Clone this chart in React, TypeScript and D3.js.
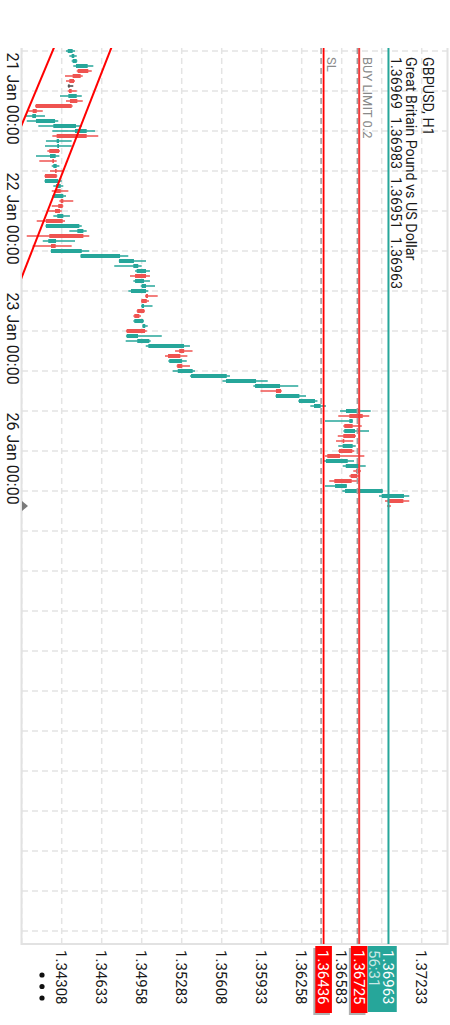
import React from 'react';
import * as d3 from 'd3';

const symbolTitle = 'GBPUSD, H1';
const symbolDesc = 'Great Britain Pound vs US Dollar';
const ohlcText = '1.36969 1.36983 1.36951 1.36963';

const opens = [
  1.34357, 1.34389, 1.34397, 1.34424, 1.34524, 1.34462, 1.34408, 1.34371, 1.34389, 1.34362,
  1.34435, 1.34389, 1.34105, 1.34069, 1.34099, 1.3424, 1.34416, 1.34511, 1.34267, 1.34272,
  1.34286, 1.34213, 1.34245, 1.3424, 1.34267, 1.34267, 1.34172, 1.34262, 1.343, 1.34245,
  1.34321, 1.34316, 1.34294, 1.34272, 1.34316, 1.3418, 1.34435, 1.34484, 1.34199, 1.34259,
  1.34221, 1.34462, 1.34774, 1.3489, 1.34917, 1.34993, 1.34904, 1.34958, 1.34871, 1.35009,
  1.34999, 1.34958, 1.34979, 1.34939, 1.34898, 1.34965, 1.34985, 1.34836, 1.34922, 1.35012,
  1.35303, 1.35272, 1.35182, 1.35288, 1.35251, 1.35359, 1.35643, 1.35879, 1.3609, 1.36049,
  1.36236, 1.36358, 1.36618, 1.36754, 1.36645, 1.36672, 1.36604, 1.36691, 1.36604, 1.36591,
  1.36669, 1.36569, 1.36455, 1.36616, 1.36732, 1.3671, 1.36664, 1.36529, 1.3661, 1.36908,
  1.37084, 1.36969,
];
const highs = [
  1.34416, 1.3443, 1.34435, 1.34565, 1.34552, 1.34479, 1.34416, 1.34402, 1.3443, 1.34471,
  1.34479, 1.34397, 1.34154, 1.34172, 1.3428, 1.34471, 1.34579, 1.34605, 1.34389, 1.34389,
  1.34294, 1.34289, 1.34267, 1.34289, 1.34321, 1.34272, 1.34308, 1.34321, 1.34362, 1.34343,
  1.34402, 1.34321, 1.34308, 1.34375, 1.34335, 1.34471, 1.34511, 1.34532, 1.34416, 1.34389,
  1.34532, 1.34849, 1.34993, 1.34958, 1.35025, 1.35025, 1.35025, 1.35066, 1.35012, 1.35088,
  1.35017, 1.35046, 1.34985, 1.34952, 1.34977, 1.35007, 1.34999, 1.35121, 1.35031, 1.3535,
  1.35371, 1.35329, 1.35324, 1.3535, 1.35391, 1.35675, 1.35982, 1.3623, 1.36096, 1.36293,
  1.36386, 1.36455, 1.36819, 1.36807, 1.36674, 1.36746, 1.36805, 1.36699, 1.36677, 1.36697,
  1.36685, 1.36767, 1.36683, 1.36778, 1.3674, 1.36732, 1.36726, 1.36626, 1.36918, 1.37132,
  1.37132, 1.36983,
];
const lows = [
  1.34343, 1.3437, 1.34389, 1.34402, 1.3443, 1.34335, 1.34343, 1.34357, 1.34357, 1.34294,
  1.34343, 1.34091, 1.34037, 1.34018, 1.34024, 1.34118, 1.34232, 1.34232, 1.3418, 1.34172,
  1.34191, 1.34099, 1.34126, 1.34227, 1.34213, 1.34168, 1.34168, 1.3424, 1.34227, 1.34232,
  1.34289, 1.34227, 1.34199, 1.3424, 1.34105, 1.34176, 1.3437, 1.34024, 1.34154, 1.34072,
  1.34218, 1.3446, 1.34772, 1.34735, 1.34904, 1.34863, 1.3489, 1.3495, 1.34849, 1.34985,
  1.34952, 1.34952, 1.34917, 1.3489, 1.3489, 1.34963, 1.3483, 1.3483, 1.34828, 1.34991,
  1.35229, 1.35147, 1.35174, 1.35242, 1.3521, 1.3535, 1.35614, 1.35865, 1.35923, 1.36045,
  1.3623, 1.36328, 1.36569, 1.36555, 1.36447, 1.36596, 1.36596, 1.36551, 1.36537, 1.36555,
  1.36555, 1.36447, 1.36439, 1.36591, 1.36677, 1.36645, 1.36482, 1.36447, 1.36588, 1.36886,
  1.36935, 1.36951,
];
const closes = [
  1.34397, 1.3441, 1.3443, 1.34519, 1.34438, 1.34397, 1.3437, 1.34371, 1.34367, 1.3443,
  1.34375, 1.34097, 1.34072, 1.34099, 1.34254, 1.34424, 1.34511, 1.34267, 1.34286, 1.34286,
  1.34207, 1.34259, 1.34232, 1.34267, 1.34254, 1.34172, 1.3428, 1.343, 1.34262, 1.34321,
  1.343, 1.3428, 1.34254, 1.34321, 1.3418, 1.34451, 1.34484, 1.34207, 1.34262, 1.34221,
  1.34471, 1.34782, 1.34895, 1.3493, 1.34993, 1.34904, 1.34977, 1.34993, 1.34993, 1.34991,
  1.34956, 1.34977, 1.34922, 1.34898, 1.34971, 1.34987, 1.34836, 1.34928, 1.3502, 1.35302,
  1.35263, 1.35172, 1.35285, 1.35247, 1.35372, 1.35649, 1.35887, 1.36082, 1.36049, 1.36239,
  1.36366, 1.36412, 1.36732, 1.36645, 1.36672, 1.36604, 1.36691, 1.36596, 1.36591, 1.36672,
  1.36561, 1.36466, 1.36632, 1.36724, 1.36699, 1.36656, 1.36523, 1.36624, 1.36916, 1.37089,
  1.36957, 1.36963,
];

const timeTickLabels = ['21 Jan 00:00', '22 Jan 00:00', '23 Jan 00:00', '26 Jan 00:00'];
const timeTickBars = [0, 24, 48, 72];
const priceGridTicks = [1.33983, 1.34308, 1.34633, 1.34958, 1.35283, 1.35608, 1.35933, 1.36258, 1.36583, 1.36908, 1.37233];
const priceLabelTicks = ['1.34308', '1.34633', '1.34958', '1.35283', '1.35608', '1.35933', '1.36258', '1.36583', '1.36908', '1.37233'];

const bidPrice = 1.36963;
const buyLimitPrice = 1.36725;
const stopLossPrice = 1.36436;
const buyLimitText = 'BUY LIMIT 0.2';
const stopLossText = 'SL';
const timerText = '56:31';

const trend1Bars = [0, 14];
const trend1Prices = [1.34234, 1.33996];
const trend2Bars = [0, 44];
const trend2Prices = [1.34701, 1.34003];

export default function App() {
  const plotLeft = 48;
  const plotRight = 944;
  const plotTop = 2;
  const plotBottom = 428;
  const barCount = 179;
  const x = d3.scaleLinear().domain([0, barCount - 1]).range([51, 51 + 5 * (barCount - 1)]);
  const y = d3.scaleLinear().domain([1.34308, 1.37233]).range([388.3, 28.3]);
  const bull = '#26a69a';
  const bear = '#ef5350';
  const font = 'Roboto, sans-serif';

  const timeGrid = d3.range(0, barCount, 8);

  const extend = (bars: number[], prices: number[]) => {
    const slope = (prices[1] - prices[0]) / (bars[1] - bars[0]);
    return [-40, 200].map((b) => [x(b), y(prices[0] + (b - bars[0]) * slope)] as [number, number]);
  };
  const lineGen = d3.line();

  const candles = opens.map((o, i) => {
    const c = closes[i];
    const h = highs[i];
    const l = lows[i];
    const color = c > o ? bull : c < o ? bear : '#444';
    const top = y(Math.max(o, c));
    const bot = y(Math.min(o, c));
    return (
      <g key={i}>
        <line x1={x(i)} x2={x(i)} y1={y(h)} y2={y(l)} stroke={color} strokeWidth={1.5} />
        <rect x={x(i) - 2} width={4} y={top} height={Math.max(1, bot - top)} fill={color} />
      </g>
    );
  });

  const boxX = 946;
  const boxW = 67;
  const boxH = 16.6;

  return (
    <svg width={450} height={1025} style={{ position: 'absolute', left: 0, top: 0 }} fontFamily={font}>
      <rect width={450} height={1025} fill="#ffffff" />
      <g transform="translate(450,0) rotate(90)">
        <defs>
          <clipPath id="plotClip">
            <rect x={plotLeft} y={plotTop} width={plotRight - plotLeft} height={plotBottom - plotTop} />
          </clipPath>
        </defs>
        {/* grid */}
        <g stroke="#e4e4e4" strokeWidth={1.5} strokeDasharray="6,4">
          {priceGridTicks.map((p, i) => (
            <line key={'pg' + i} x1={plotLeft} x2={plotRight} y1={y(p)} y2={y(p)} />
          ))}
          {timeGrid.map((b) => (
            <line key={'tg' + b} x1={x(b)} x2={x(b)} y1={plotTop} y2={plotBottom} />
          ))}
        </g>
        {/* borders */}
        <line x1={plotLeft} x2={plotRight + 1} y1={plotBottom + 0.5} y2={plotBottom + 0.5} stroke="#e2e2e2" strokeWidth={2} />
        <line x1={plotLeft} x2={plotRight + 1} y1={plotTop + 0.5} y2={plotTop + 0.5} stroke="#e2e2e2" strokeWidth={2} />
        <line x1={plotRight} x2={plotRight} y1={plotTop} y2={plotBottom + 1} stroke="#e2e2e2" strokeWidth={2} />

        {/* title */}
        <g fill="#1a1a1a" fontSize={14.3}>
          <text x={57} y={27.5}>{symbolTitle}</text>
          <text x={57} y={44}>{symbolDesc}</text>
          <text x={57} y={59} wordSpacing={4.5}>{ohlcText}</text>
        </g>

        <g clipPath="url(#plotClip)">
          {candles}
          <path d={lineGen(extend(trend1Bars, trend1Prices)) || ''} stroke="#ff0000" strokeWidth={2} fill="none" />
          <path d={lineGen(extend(trend2Bars, trend2Prices)) || ''} stroke="#ff0000" strokeWidth={2} fill="none" />
          {/* order lines */}
          <line x1={plotLeft} x2={plotRight} y1={y(stopLossPrice) + 2.5} y2={y(stopLossPrice) + 2.5} stroke="#a0a0a0" strokeWidth={1.6} strokeDasharray="6,4" />
          <line x1={plotLeft} x2={plotRight} y1={y(stopLossPrice)} y2={y(stopLossPrice)} stroke="#ff0000" strokeWidth={1.8} />
          <line x1={plotLeft} x2={plotRight} y1={y(buyLimitPrice) + 1.8} y2={y(buyLimitPrice) + 1.8} stroke="#a0a0a0" strokeWidth={1.6} strokeDasharray="6,4" />
          <line x1={plotLeft} x2={plotRight} y1={y(buyLimitPrice)} y2={y(buyLimitPrice)} stroke="#f03c3c" strokeWidth={2} />
          <line x1={plotLeft} x2={plotRight} y1={y(bidPrice)} y2={y(bidPrice)} stroke={bull} strokeWidth={2} />
        </g>
        <g fill="#8a8a8a" fontSize={13}>
          <text x={57} y={y(stopLossPrice) - 3.5}>{stopLossText}</text>
          <text x={57} y={y(buyLimitPrice) - 3.5}>{buyLimitText}</text>
        </g>

        {/* time axis */}
        <g fill="#1a1a1a" fontSize={16}>
          {timeTickLabels.map((t, i) => (
            <text key={t} x={x(timeTickBars[i]) + 1.5} y={443.5}>{t}</text>
          ))}
        </g>
        <path d={`M${x(91) - 5},${plotBottom} L${x(91) + 5},${plotBottom} L${x(91)},${plotBottom - 6} Z`} fill="#7a7a7a" />

        {/* price axis */}
        <g fill="#1a1a1a" fontSize={15}>
          {priceLabelTicks.map((t) => (
            <text key={t} x={950} y={y(+t)} dy="0.36em">{t}</text>
          ))}
        </g>
        {[975, 986.5, 998].map((cx) => (
          <circle key={cx} cx={cx} cy={408} r={2.6} fill="#111" />
        ))}

        {/* price markers */}
        <rect x={boxX + 2} y={y(stopLossPrice) - boxH / 2 + 2} width={boxW} height={boxH} fill="#b0b0b0" />
        <rect x={boxX} y={y(stopLossPrice) - boxH / 2} width={boxW} height={boxH} fill="#ff0000" />
        <text x={950} y={y(stopLossPrice)} dy="0.36em" fill="#fff" fontSize={15}>{stopLossPrice.toFixed(5)}</text>

        <rect x={boxX + 2} y={y(buyLimitPrice) - boxH / 2 + 2} width={boxW} height={boxH} fill="#b0b0b0" />
        <rect x={boxX} y={y(buyLimitPrice) - boxH / 2} width={boxW} height={boxH} fill="#ff0000" />
        <text x={950} y={y(buyLimitPrice)} dy="0.36em" fill="#fff" fontSize={15}>{buyLimitPrice.toFixed(5)}</text>

        <rect x={boxX} y={y(bidPrice) - 8.3} width={boxW - 1} height={29} fill={bull} />
        <text x={950} y={y(bidPrice)} dy="0.36em" fill="#fff" fontSize={15}>{bidPrice.toFixed(5)}</text>
        <text x={950} y={y(bidPrice) + 14} dy="0.36em" fill="#fff" fillOpacity={0.75} fontSize={15}>{timerText}</text>
      </g>
    </svg>
  );
}
